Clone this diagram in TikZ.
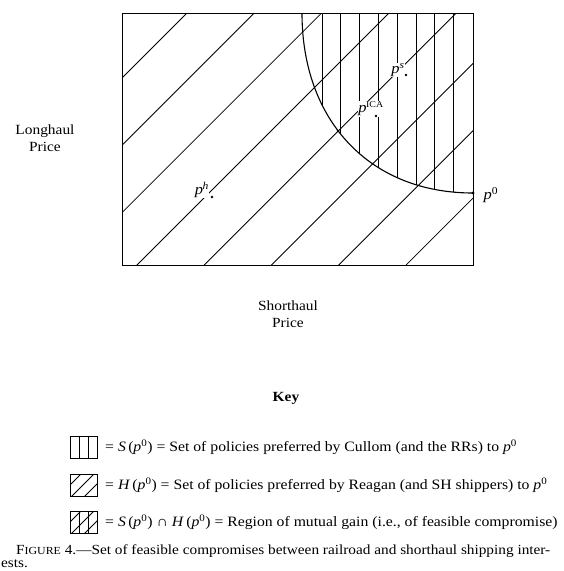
\documentclass[tikz,border=0pt]{standalone}
\usepackage{fontspec}
\setmainfont[FakeStretch=1.1]{Liberation Serif}
\begin{document}
\begin{tikzpicture}[x=1pt,y=-1pt,
  frame/.style={line width=1.1pt},
  hatch/.style={line width=0.85pt},
  dotmark/.style={circle,fill=black,inner sep=0pt,minimum size=2.8pt},
  plabel/.style={fill=white,inner sep=0.4pt,font=\fontsize{15}{16}\selectfont},
  axlabel/.style={align=center,font=\fontsize{14}{17}\selectfont},
  keytext/.style={anchor=west,inner sep=0pt,font=\fontsize{14.3}{16}\selectfont},
  capt/.style={anchor=west,inner sep=0pt,font=\fontsize{13.9}{15}\selectfont}]
\useasboundingbox (0,0) rectangle (564,571);
% diagonal hatching over the whole box
\begin{scope}
  \clip (122,13) rectangle (473,265);
  \foreach \k in {0,...,7}{
    \pgfmathsetmacro\cc{200+67.3*\k}
    \draw[hatch] ({\cc-275},275) -- ({\cc-5},5);
  }
\end{scope}
% vertical hatching inside the arc region
\begin{scope}
  \clip (302,13) -- (473,13) -- (473,193) .. controls (370,193) and (302,121) .. (302,13) -- cycle;
  \foreach \i in {0,...,7}
    \draw[hatch] ({322+18.8*\i},5) -- ({322+18.8*\i},270);
\end{scope}
% frame and arc
\node[draw,frame,minimum width=351pt,minimum height=252pt,inner sep=0pt,anchor=north west] (box) at (122,13) {};
\draw[frame] (302,13) .. controls (302,121) and (370,193) .. (473,193);
% points
\node[dotmark,minimum size=3.2pt] (p0) at (473,193) {};
\node[dotmark] (cross) at (338,131) {};
\node[plabel,fill=none] (p0lab) at (491,195) {\textit{p}\textsuperscript{0}};
\node[plabel] (phlab) at (202,190) {\textit{p}\textsuperscript{\kern-0.5pt\textit{h}}};
\node[dotmark] (ph) at (212,197) {};
\node[plabel] (pica) at (371,109) {\textit{p}\textsuperscript{\kern-0.5pt\fontsize{9}{10}\selectfont ICA}};
\node[dotmark] (picadot) at (376,116) {};
\node[plabel] (pslab) at (398,70) {\textit{p}\textsuperscript{\textit{s}}};
\node[dotmark] (psdot) at (406,75) {};
% axis labels
\node[axlabel] (lh) at (45,138) {Longhaul\\Price};
\node[axlabel] (sh) at (288,314) {Shorthaul\\Price};
\node[axlabel,font=\fontsize{14}{17}\selectfont\bfseries] (key) at (286,398) {Key};
% key boxes
\draw[hatch] (70,436) rectangle (97,458);
\draw[hatch] (79,436) -- (79,458) (88,436) -- (88,458);
\begin{scope}
  \clip (70,474) rectangle (97,496);
  \foreach \d in {11,24,37} \draw[hatch] ({70+\d+5},469) -- ({70+\d-30},504);
\end{scope}
\draw[hatch] (70,474) rectangle (97,496);
\begin{scope}
  \clip (70,511) rectangle (97,533);
  \foreach \d in {11,24,37} \draw[hatch] ({70+\d+5},506) -- ({70+\d-30},541);
  \draw[hatch] (79,511) -- (79,533) (88,511) -- (88,533);
\end{scope}
\draw[hatch] (70,511) rectangle (97,533);
\node[keytext] (k1) at (105,447) {= \textit{S}\,(\textit{p}\textsuperscript{0}) = Set of policies preferred by Cullom (and the RRs) to \textit{p}\textsuperscript{0}};
\node[keytext] (k2) at (105,485) {= \textit{H}\,(\textit{p}\textsuperscript{0}) = Set of policies preferred by Reagan (and SH shippers) to \textit{p}\textsuperscript{0}};
\node[keytext] (k3) at (105,522) {= \textit{S}\,(\textit{p}\textsuperscript{0}) ∩ \textit{H}\,(\textit{p}\textsuperscript{0}) = Region of mutual gain (i.e., of feasible compromise)};
\node[capt] (c1) at (16,551) {F{\fontsize{10.8}{12}\selectfont IGURE} 4.—Set of feasible compromises between railroad and shorthaul shipping inter-};
\node[capt] (c2) at (1,564) {ests.};
\end{tikzpicture}
\end{document}
